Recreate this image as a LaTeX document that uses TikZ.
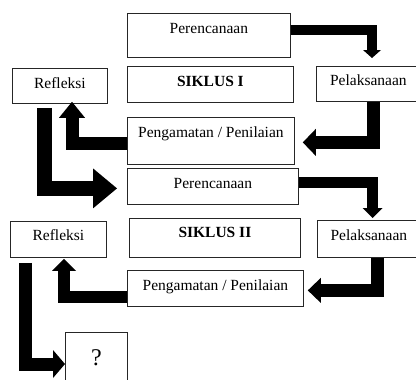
\documentclass[tikz,border=0pt]{standalone}
\usepackage{fontspec}
\setmainfont{Liberation Serif}
\usetikzlibrary{arrows.meta}
\tikzset{
  box/.style={draw=black!85, line width=0.8pt, inner xsep=0pt, inner ysep=0pt,
    anchor=north west, font=\fontsize{15.5}{18}\selectfont},
  blk/.style n args={3}{draw=black, line width=#1pt, line join=miter,
    -{Triangle[width=#2pt,length=#3pt,line width=0pt]}}
}
\begin{document}
\begin{tikzpicture}[x=1pt,y=-1pt]
\clip (0,0) rectangle (416,380);
\useasboundingbox (0,0) rectangle (416,380);
% boxes
\node[box, minimum width=163pt, text height=20pt, text depth=24pt] (p1) at (127,13) {Perencanaan};
\node[box, minimum width=166pt, text height=20pt, text depth=16pt, font=\fontsize{15.5}{18}\selectfont\bfseries] (s1) at (127,66) {SIKLUS I};
\node[box, minimum width=95pt, text height=20pt, text depth=15pt] (r1) at (12,68) {Refleksi};
\node[box, minimum width=104pt, text height=19pt, text depth=16pt] (l1) at (316,66) {Pelaksanaan};
\node[box, minimum width=167pt, text height=20.5pt, text depth=26.5pt] (g1) at (127,117) {Pengamatan / Penilaian};
\node[box, minimum width=171pt, text height=20pt, text depth=16pt] (p2) at (127,168) {Perencanaan};
\node[box, minimum width=171pt, text height=18.7pt, text depth=20.3pt, font=\fontsize{15.5}{18}\selectfont\bfseries] (s2) at (129,218) {SIKLUS II};
\node[box, minimum width=96pt, text height=19pt, text depth=17pt] (r2) at (10,221) {Refleksi};
\node[box, minimum width=103pt, text height=20pt, text depth=17pt] (l2) at (317,220) {Pelaksanaan};
\node[box, minimum width=176pt, text height=20pt, text depth=16pt] (g2) at (127,270) {Pengamatan / Penilaian};
\node[box, minimum width=62pt, text height=33pt, text depth=20pt, font=\fontsize{24}{28}\selectfont] (q) at (65,332) {?};
% block arrows
\draw[blk={10}{18}{8}] ([yshift=5pt]p1.east) -| ([xshift=56pt,yshift=8pt]l1.north west);
\draw[blk={13}{27}{13}] ([xshift=57pt]l1.south west) |- ([xshift=8pt,yshift=-1.5pt]g1.east);
\draw[blk={13}{26}{16}] ([yshift=-3pt]g1.west) -| ([xshift=60pt,yshift=2pt]r1.south west);
\draw[blk={15}{40}{24}] ([xshift=32.5pt,yshift=-4pt]r1.south west) |- ([xshift=-10pt,yshift=-2pt]p2.west);
\draw[blk={11}{20}{10}] ([yshift=3.5pt]p2.east) -| ([xshift=55.5pt,yshift=2pt]l2.north west);
\draw[blk={13}{25}{13}] ([xshift=60pt]l2.south west) |- ([xshift=4pt,yshift=-2pt]g2.east);
\draw[blk={12}{24}{12}] ([yshift=-8.5pt]g2.west) -| ([xshift=54pt,yshift=-1pt]r2.south west);
\draw[blk={13}{28}{12}] ([xshift=15.5pt,yshift=-5pt]r2.south west) |- ([yshift=-32pt]q.north west);
\end{tikzpicture}
\end{document}
